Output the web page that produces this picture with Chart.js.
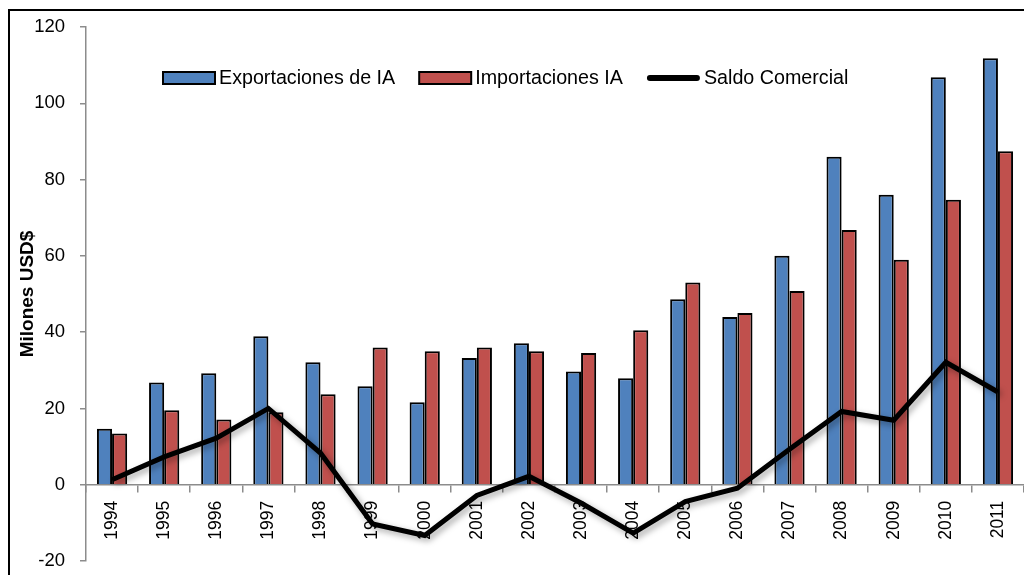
<!DOCTYPE html>
<html>
<head>
<meta charset="utf-8">
<script src="https://cdn.jsdelivr.net/npm/chart.js@4.4.1/dist/chart.umd.min.js"></script>
<style>
  body { margin: 0; background: #fff; }
  #wrap { position: relative; width: 1024px; height: 575px; overflow: hidden; }
  #frame { position: absolute; left: 8px; top: 9px; width: 1040px; height: 600px; border: 2px solid #000; pointer-events: none; }
  canvas { position: absolute; left: 0; top: 0; }
</style>
</head>
<body>
<div id="wrap">
  <canvas id="chart" width="1024" height="575"></canvas>
  <div id="frame"></div>
</div>
<script>
// years on the x axis
const years = ['1994','1995','1996','1997','1998','1999','2000','2001','2002','2003',
               '2004','2005','2006','2007','2008','2009','2010','2011'];

// values (millones USD$)
const exportaciones = [14.7, 26.8, 29.2, 38.9, 32.1, 25.8, 21.6, 33.2, 37.1, 29.7,
                       27.9, 48.6, 44.0, 60.0, 86.0, 76.0, 106.8, 111.8];
const importaciones = [13.4, 19.5, 17.1, 19.0, 23.7, 36.0, 35.0, 36.0, 35.0, 34.5,
                       40.5, 53.0, 45.0, 50.8, 66.8, 59.0, 74.7, 87.4];
const saldo = [1.3, 7.3, 12.2, 20.0, 8.3, -10.3, -13.3, -2.8, 2.2, -4.8,
               -12.7, -4.4, -0.9, 9.3, 19.2, 16.9, 32.1, 24.3];

const yTicks = [-20, 0, 20, 40, 60, 80, 100, 120];

const FONT = '"Liberation Sans", Arial, sans-serif';

// soft shadow under the balance line
const lineShadow = {
    id: 'lineShadow',
    beforeDatasetDraw(chart, args) {
        if (args.index !== 2) return;
        const ctx = chart.ctx;
        ctx.save();
        ctx.shadowColor = 'rgba(0,0,0,0.35)';
        ctx.shadowBlur = 6;
        ctx.shadowOffsetX = 3;
        ctx.shadowOffsetY = 3;
    },
    afterDatasetDraw(chart, args) {
        if (args.index !== 2) return;
        chart.ctx.restore();
    }
};

// one-row legend inside the plot, like the excel one
const rowLegend = {
    id: 'rowLegend',
    afterDraw(chart) {
        const ctx = chart.ctx;
        let x = 163;
        const y = 78;
        ctx.save();
        ctx.font = '19.7px ' + FONT;
        ctx.textBaseline = 'middle';
        ctx.fillStyle = '#000';
        chart.data.datasets.forEach((ds, i) => {
            if (ds.type === 'line') {
                ctx.strokeStyle = ds.borderColor;
                ctx.lineWidth = 6;
                ctx.lineCap = 'round';
                ctx.beginPath();
                ctx.moveTo(x + 3, y);
                ctx.lineTo(x + 50, y);
                ctx.stroke();
                x += 57;
            } else {
                ctx.fillStyle = ds.backgroundColor;
                ctx.fillRect(x, y - 6, 52, 12);
                ctx.strokeStyle = '#000';
                ctx.lineWidth = 2;
                ctx.strokeRect(x, y - 6, 52, 12);
                x += 56;
            }
            ctx.fillStyle = '#000';
            ctx.fillText(ds.label, x, y + 1);
            x += ctx.measureText(ds.label).width + 24;
        });
        ctx.restore();
    }
};

const ctx = document.getElementById('chart');
new Chart(ctx, {
    type: 'bar',
    data: {
        labels: years,
        datasets: [
            {
                label: 'Exportaciones de IA',
                data: exportaciones,
                backgroundColor: '#4F81BD',
                borderColor: '#000',
                borderWidth: 2,
                order: 1
            },
            {
                label: 'Importaciones IA',
                data: importaciones,
                backgroundColor: '#C0504D',
                borderColor: '#000',
                borderWidth: 2,
                order: 1
            },
            {
                type: 'line',
                label: 'Saldo Comercial',
                data: saldo,
                borderColor: '#000',
                backgroundColor: '#000',
                borderWidth: 5,
                pointRadius: 0,
                tension: 0,
                fill: false,
                order: 0
            }
        ]
    },
    options: {
        responsive: false,
        animation: false,
        layout: { padding: { left: 0, top: 27, right: 0, bottom: 14 } },
        datasets: {
            bar: { barPercentage: 1.0, categoryPercentage: 0.58 }
        },
        plugins: {
            tooltip: { enabled: false },
            legend: { display: false }
        },
        scales: {
            x: {
                position: { y: 0 },
                afterFit(scale) {
                    scale.height = 0;
                    scale.paddingLeft = 0; scale.paddingRight = 0;
                    scale.paddingTop = 0; scale.paddingBottom = 0;
                },
                grid: {
                    display: true,
                    drawOnChartArea: false,
                    drawTicks: true,
                    tickLength: 7,
                    color: '#8c8c8c',
                    lineWidth: 1.5,
                    offset: true
                },
                border: { display: true, color: '#8c8c8c', width: 1.5 },
                ticks: {
                    color: '#000',
                    font: { family: FONT, size: 17.5 },
                    minRotation: 90,
                    maxRotation: 90,
                    autoSkip: false,
                    padding: 9
                }
            },
            y: {
                min: -20,
                max: 120,
                afterFit(scale) {
                    scale.width = 86;
                    scale.paddingTop = 0; scale.paddingBottom = 0;
                },
                afterBuildTicks(scale) { scale.ticks = yTicks.map(v => ({ value: v })); },
                grid: {
                    display: true,
                    drawOnChartArea: false,
                    drawTicks: true,
                    tickLength: 6,
                    color: '#8c8c8c',
                    lineWidth: 1.5
                },
                border: { display: true, color: '#8c8c8c', width: 1.5 },
                ticks: {
                    color: '#000',
                    font: { family: FONT, size: 18.5 },
                    padding: 15
                },
                title: {
                    display: true,
                    text: 'Milones USD$',
                    color: '#000',
                    font: { family: FONT, size: 19, weight: 'bold' },
                    padding: { top: 16, bottom: 0 }
                }
            }
        }
    },
    plugins: [lineShadow, rowLegend]
});
</script>
</body>
</html>
